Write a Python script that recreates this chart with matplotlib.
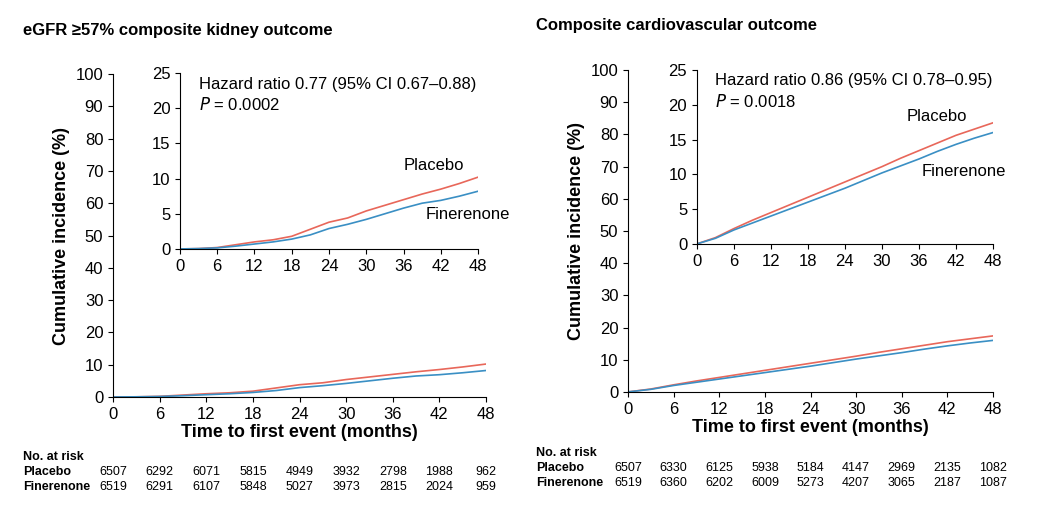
import matplotlib.pyplot as plt

months = [0, 3, 6, 9, 12, 15, 18, 21, 24, 27, 30, 33, 36, 39, 42, 45, 48]
kid_placebo = [0, 0.05, 0.2, 0.6, 1.0, 1.3, 1.8, 2.8, 3.8, 4.4, 5.4, 6.2, 7.0, 7.8, 8.5, 9.3, 10.2]
kid_finer = [0, 0.05, 0.15, 0.4, 0.7, 1.0, 1.4, 2.0, 2.9, 3.5, 4.2, 5.0, 5.8, 6.5, 6.9, 7.5, 8.2]
cv_placebo = [0, 0.9, 2.2, 3.4, 4.5, 5.6, 6.7, 7.8, 8.9, 10.0, 11.1, 12.3, 13.4, 14.5, 15.6, 16.5, 17.4]
cv_finer = [0, 0.8, 2.0, 3.0, 4.0, 5.0, 6.0, 7.0, 8.0, 9.1, 10.2, 11.2, 12.2, 13.3, 14.3, 15.2, 16.0]

risk_months = [0, 6, 12, 18, 24, 30, 36, 42, 48]
kid_risk_pl = [6507, 6292, 6071, 5815, 4949, 3932, 2798, 1988, 962]
kid_risk_fi = [6519, 6291, 6107, 5848, 5027, 3973, 2815, 2024, 959]
cv_risk_pl = [6507, 6330, 6125, 5938, 5184, 4147, 2969, 2135, 1082]
cv_risk_fi = [6519, 6360, 6202, 6009, 5273, 4207, 3065, 2187, 1087]

RED = '#e8675a'
BLUE = '#3a8fc4'
plt.rcParams['font.family'] = 'Liberation Sans'

fig = plt.figure(figsize=(10.41, 5.07), dpi=100)


def style(ax, ymax, ystep, fs):
    ax.set_xlim(0, 48)
    ax.set_ylim(0, ymax)
    ax.set_xticks(range(0, 49, 6))
    ax.set_yticks(range(0, ymax + 1, ystep))
    ax.spines['top'].set_visible(False)
    ax.spines['right'].set_visible(False)
    ax.tick_params(labelsize=fs)
    ax.patch.set_alpha(0)


def panel(main_rect, inset_rect, pl, fi, title, ty, hr, p, lbl_pl, lbl_fi,
          risk_pl, risk_fi, tx, ry):
    ax = fig.add_axes(main_rect)
    ax.plot(months, pl, color=RED, lw=1.2)
    ax.plot(months, fi, color=BLUE, lw=1.2)
    style(ax, 100, 10, 12)
    ax.set_ylabel('Cumulative incidence (%)', fontsize=13, fontweight='bold')
    ax.set_xlabel('Time to first event (months)', fontsize=13, fontweight='bold', labelpad=2)
    ins = fig.add_axes(inset_rect)
    ins.plot(months, pl, color=RED, lw=1.2)
    ins.plot(months, fi, color=BLUE, lw=1.2)
    style(ins, 25, 5, 12)
    ins.text(3, 24.5, hr, fontsize=12, va='top')
    ins.text(3, 21.7, '$\\it{P}$ = ' + p, fontsize=12, va='top')
    ins.text(*lbl_pl, 'Placebo', fontsize=12)
    ins.text(*lbl_fi, 'Finerenone', fontsize=12)
    fig.text(tx, ty, title, fontsize=12, fontweight='bold')
    # numbers at risk
    fig.text(tx, ry + 0.03, 'No. at risk', fontsize=9, fontweight='bold')
    fig.text(tx, ry, 'Placebo', fontsize=9, fontweight='bold')
    fig.text(tx, ry - 0.03, 'Finerenone', fontsize=9, fontweight='bold')
    for m, a, b in zip(risk_months, risk_pl, risk_fi):
        xf = ax.transAxes.transform((m / 48, 0))
        xfig = fig.transFigure.inverted().transform(xf)[0]
        fig.text(xfig, ry, str(a), fontsize=9, ha='center')
        fig.text(xfig, ry - 0.03, str(b), fontsize=9, ha='center')


panel([0.1086, 0.217, 0.3583, 0.637], [0.1729, 0.509, 0.2863, 0.347],
      kid_placebo, kid_finer, 'eGFR ≥57% composite kidney outcome', 0.93,
      'Hazard ratio 0.77 (95% CI 0.67–0.88)', '0.0002',
      (36, 11.2), (39.5, 4.3), kid_risk_pl, kid_risk_fi, 0.022, 0.063)
panel([0.6033, 0.227, 0.3506, 0.635], [0.6695, 0.519, 0.2843, 0.343],
      cv_placebo, cv_finer, 'Composite cardiovascular outcome', 0.94,
      'Hazard ratio 0.86 (95% CI 0.78–0.95)', '0.0018',
      (34, 17.6), (36.5, 9.8), cv_risk_pl, cv_risk_fi, 0.515, 0.071)

fig.savefig('out.png')
